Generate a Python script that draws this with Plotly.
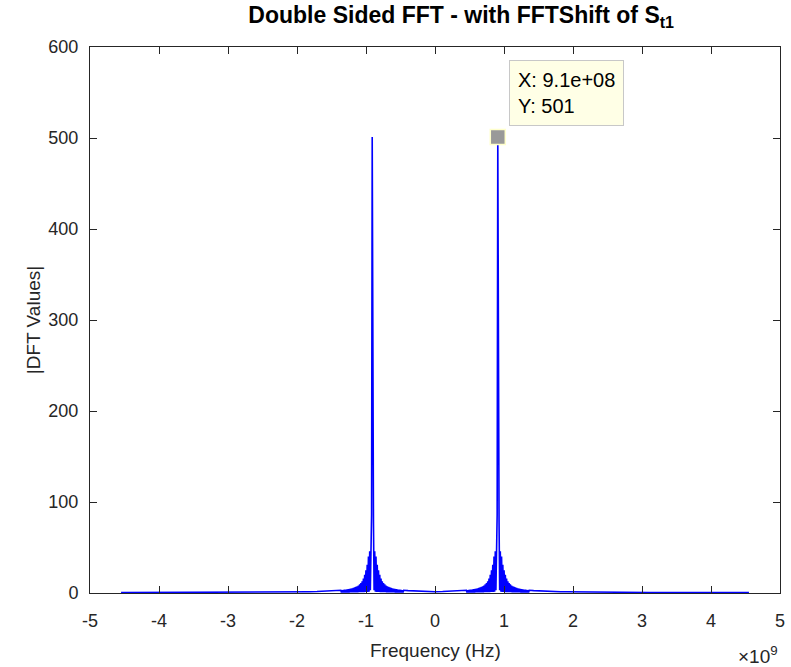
import plotly.graph_objects as go

# ---- data ----
PEAK_HZ = 9.1e8          # peak position (data tip X)
PEAK_MAG = 501           # peak magnitude (data tip Y)
BIN_HZ = 9.1e6           # approximate frequency resolution
HALF_FS = 4.55e9         # spectrum spans -fs/2 .. fs/2

# magnitudes at bin offsets 1..50 from each peak (leakage, alternating)
NEAR_MAG = [86, 78, 3, 46, 1.5, 40, 1.2, 31, 1.0, 25,
            1.0, 20, 0.9, 16, 0.9, 13, 0.8, 11, 0.8, 9.5,
            0.8, 8.3, 0.7, 7.4, 0.7, 6.7, 0.7, 6.1, 0.6, 5.6,
            0.6, 5.2, 0.6, 4.8, 0.6, 4.5, 0.5, 4.2, 0.5, 4.0,
            0.5, 3.8, 0.5, 3.6, 0.5, 3.4, 0.5, 3.2, 0.4, 3.0]
# far tail (offsets in MHz from the peak)
TAIL_OFF_MHZ = [520, 600, 700, 800, 910, 1000, 1300, 1700, 2200, 2800, 3640]
TAIL_MAG = [2.6, 2.2, 1.9, 1.6, 1.4, 1.3, 1.0, 0.8, 0.6, 0.5, 0.4]

X_TICKS = [-5e9, -4e9, -3e9, -2e9, -1e9, 0, 1e9, 2e9, 3e9, 4e9, 5e9]
X_TICK_TEXT = ["-5", "-4", "-3", "-2", "-1", "0", "1", "2", "3", "4", "5"]
Y_TICKS = [0, 100, 200, 300, 400, 500, 600]
Y_TICK_TEXT = ["0", "100", "200", "300", "400", "500", "600"]

# ---- assemble the double-sided spectrum ----
pts = {}
for s in (-1, 1):
    c = s * PEAK_HZ
    pts[c] = PEAK_MAG
    for k, m in enumerate(NEAR_MAG, start=1):
        pts[c + k * BIN_HZ] = m
        pts[c - k * BIN_HZ] = m
    for off, m in zip(TAIL_OFF_MHZ, TAIL_MAG):
        for d in (1, -1):
            inner = (d == -s)
            if inner and off > PEAK_HZ / 1e6:
                continue
            f = c + d * off * 1e6
            if abs(f) <= HALF_FS + 1:
                pts[round(f)] = m
freqs = sorted(pts)
mags = [pts[f] for f in freqs]

FONT = "Liberation Sans, Arial, Helvetica, sans-serif"
AX = "#262626"

fig = go.Figure()
fig.add_trace(go.Scatter(x=freqs, y=mags, mode="lines",
                         line=dict(color="#0000FF", width=1.6),
                         hoverinfo="skip", showlegend=False))
fig.add_trace(go.Scatter(x=[PEAK_HZ], y=[PEAK_MAG], mode="markers",
                         marker=dict(symbol="square", size=15, color="#999999",
                                     line=dict(color="#FFFFCC", width=1.5)),
                         hoverinfo="skip", showlegend=False))

fig.add_annotation(x=PEAK_HZ, y=PEAK_MAG, xref="x", yref="y",
                   text=f"X: {PEAK_HZ:.1e}" + f"<br>Y: {PEAK_MAG}",
                   showarrow=False, xanchor="left", yanchor="bottom",
                   xshift=11, yshift=11, align="left",
                   bgcolor="#FFFFE6", bordercolor="#C8C8C8", borderwidth=1,
                   borderpad=8, font=dict(family=FONT, size=20, color="#000000"))

# x-axis title and exponent label
fig.add_annotation(x=0.5, y=-0.106, xref="paper", yref="paper",
                   text="Frequency (Hz)", showarrow=False,
                   xanchor="center", yanchor="middle",
                   font=dict(family=FONT, size=19, color=AX))
fig.add_annotation(x=1.0, y=-0.114, xref="paper", yref="paper",
                   text="×10<sup>9</sup>", showarrow=False,
                   xanchor="right", yanchor="middle",
                   font=dict(family=FONT, size=19, color=AX))

axis_common = dict(showgrid=False, zeroline=False, showline=True, linecolor=AX,
                   linewidth=1, mirror="ticks", ticks="inside", ticklen=7,
                   tickcolor=AX, tickwidth=1,
                   tickfont=dict(family=FONT, size=18, color=AX))

fig.update_layout(
    width=791, height=667,
    margin=dict(l=90, r=6, t=47, b=74),
    paper_bgcolor="white", plot_bgcolor="white",
    title=dict(text="<b>Double Sided FFT - with FFTShift of S<sub>t1</sub></b>",
               x=0.538, xref="paper", xanchor="center", y=0.99, yanchor="top",
               font=dict(family=FONT, size=23, color="#000000")),
    xaxis=dict(range=[-5e9, 5e9], tickvals=X_TICKS, ticktext=X_TICK_TEXT,
               ticklabelstandoff=11, **axis_common),
    yaxis=dict(range=[0, 600], tickvals=Y_TICKS, ticktext=Y_TICK_TEXT,
               ticklabelstandoff=7,
               title=dict(text="|DFT Values|", standoff=2,
                          font=dict(family=FONT, size=19, color=AX)),
               **axis_common),
)

fig.write_html("out.html")
